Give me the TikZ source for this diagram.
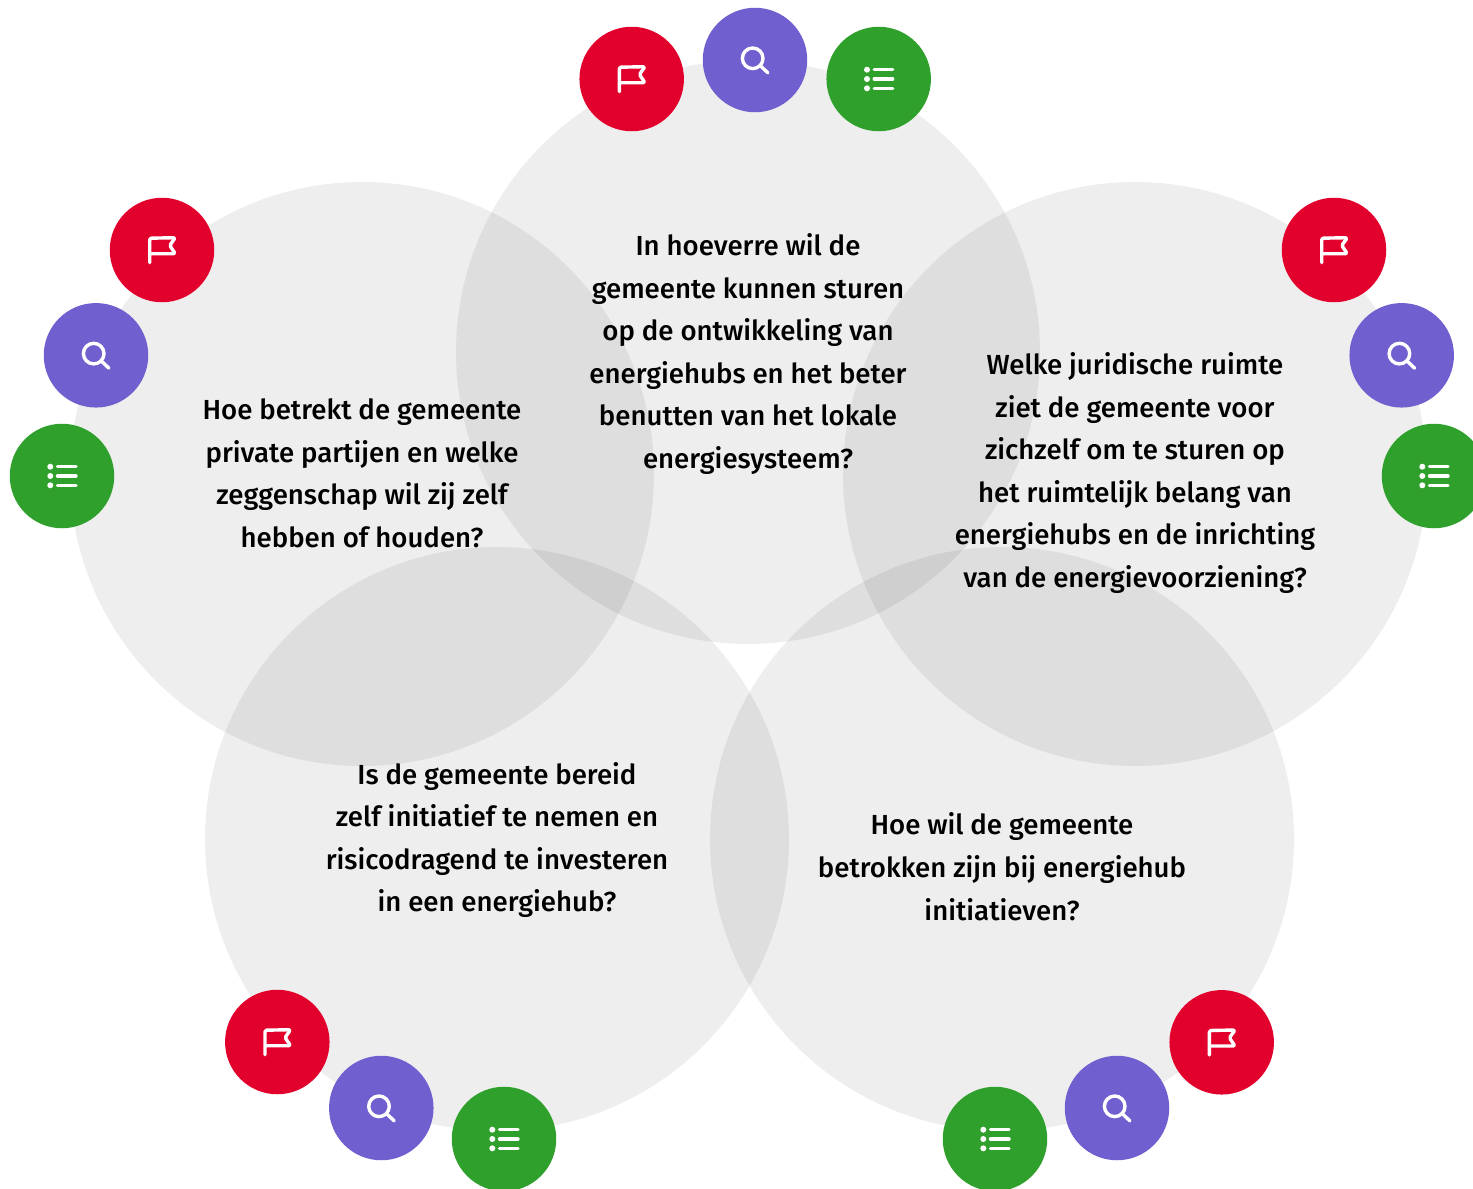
\documentclass[tikz,border=0pt]{standalone}
\usepackage{fontspec}
\setmainfont{Fira Sans Medium}
\definecolor{cred}{HTML}{E2002C}
\definecolor{cpurple}{HTML}{705FCF}
\definecolor{cgreen}{HTML}{2FA02B}
\tikzset{
  x=1pt,y=-1pt,
  venn/.style={circle,fill=black,fill opacity=.065,draw=none,minimum size=584pt,inner sep=0pt},
  badge/.style={circle,draw=none,minimum size=104.5pt,inner sep=0pt},
  qtext/.style={align=center,text=black,font=\fontsize{27.6}{42.6}\selectfont,inner sep=0pt},
  icon/.style={draw=white,line width=3.4pt,line cap=round,line join=round},
  pics/flagicon/.style={code={
    \draw[icon,rounded corners=1.5pt] (-12.3,12.7) -- (-12.3,-11.8) -- (13.3,-12.3) -- (7.7,-4.5) -- (13.3,3.7) -- (-12.3,3.7);
  }},
  pics/searchicon/.style={code={
    \draw[icon] (-2.3,-1.7) circle (10.3);
    \draw[icon] (5.2,5.6) -- (12.9,12.9);
  }},
  pics/listicon/.style={code={
    \fill[white] (-11.7,-9.3) circle (3) (-11.7,0) circle (3) (-11.7,9.3) circle (3);
    \draw[icon] (-4.5,-9.3) -- (14,-9.3) (-4.5,0) -- (14,0) (-4.5,9.3) -- (14,9.3);
  }}
}
\newcommand{\trio}[4]{%
  \node[badge,fill=cred] (#1r) at (#2) {}; \pic at (#1r) {flagicon};
  \node[badge,fill=cpurple] (#1p) at (#3) {}; \pic at (#1p) {searchicon};
  \node[badge,fill=cgreen] (#1g) at (#4) {}; \pic at (#1g) {listicon};
}
\begin{document}
\begin{tikzpicture}
\clip (0,0) rectangle (1473,1189);
\node[venn] (top) at (748,352) {};
\node[venn] (left) at (362,474) {};
\node[venn] (right) at (1135,474) {};
\node[venn] (bl) at (497,839) {};
\node[venn] (br) at (1002,839) {};
\trio{t}{631.7,79}{755,60}{878.7,79}
\trio{l}{162,250}{96,355.3}{62,476}
\trio{a}{1334,250}{1401.7,355.3}{1434,476}
\trio{b}{277.3,1042}{381.3,1108}{504,1139}
\trio{c}{1221.7,1042.3}{1117,1108}{995,1139}
\node[qtext] (q1) at (748,354) {In hoeverre wil de\\gemeente kunnen sturen\\op de ontwikkeling van\\energiehubs en het beter\\benutten van het lokale\\energiesysteem?};
\node[qtext] (q2) at (362,473.3) {Hoe betrekt de gemeente\\private partijen en welke\\zeggenschap wil zij zelf\\hebben of houden?};
\node[qtext] (q3) at (1135,473) {Welke juridische ruimte\\ziet de gemeente voor\\zichzelf om te sturen op\\het ruimtelijk belang van\\energiehubs en de inrichting\\van de energievoorziening?};
\node[qtext] (q4) at (497,840) {Is de gemeente bereid\\zelf initiatief te nemen en\\risicodragend te investeren\\in een energiehub?};
\node[qtext] (q5) at (1002,866.7) {Hoe wil de gemeente\\betrokken zijn bij energiehub\\initiatieven?};
\end{tikzpicture}
\end{document}
